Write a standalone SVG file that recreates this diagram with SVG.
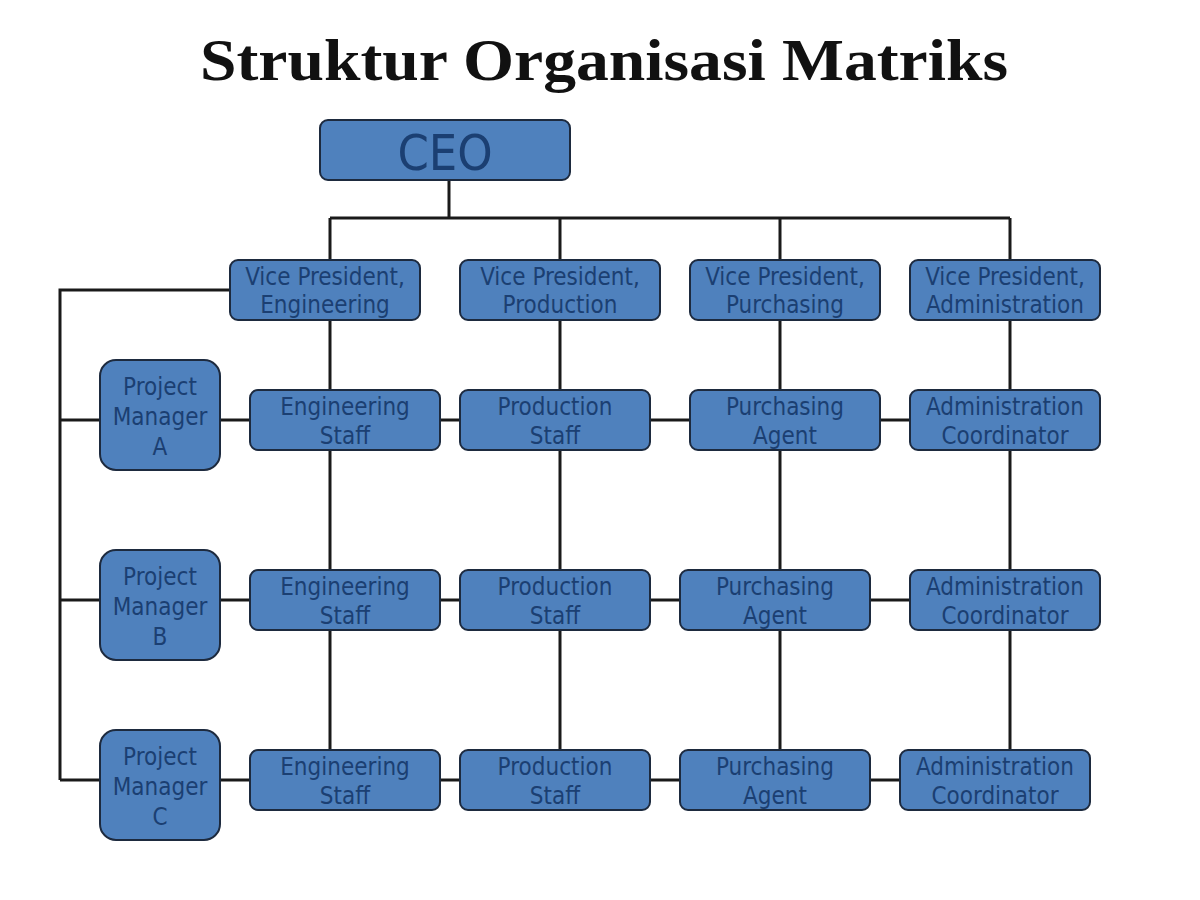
<svg xmlns="http://www.w3.org/2000/svg" width="1200" height="900" viewBox="0 0 1200 900">
<style>
.box{fill:#4f81bd;stroke:#1d2a3e;stroke-width:2}
.lbl{font-family:"DejaVu Sans Condensed","DejaVu Sans",sans-serif;font-stretch:condensed;font-size:24px;fill:#1b3f72;text-anchor:middle}
.ln{stroke:#1a1a1a;stroke-width:3;fill:none}
.title{font-family:"Liberation Serif","Times New Roman",serif;font-weight:bold;font-size:60px;fill:#111;text-anchor:middle}
</style>
<rect width="1200" height="900" fill="#ffffff"/>
<text class="title" x="604" y="80" textLength="808" lengthAdjust="spacingAndGlyphs">Struktur Organisasi Matriks</text>
<g id="connectors">
<path class="ln" d="M449 180V218M330 218H1010M330 218V260M560 218V260M780 218V260M1010 218V260"/>
<path class="ln" d="M330 320V750M560 320V750M780 320V750M1010 320V750"/>
<path class="ln" d="M230 290H60V780"/>
<path class="ln" d="M60 420H100M220 420H250M440 420H460M650 420H690M880 420H910"/>
<path class="ln" d="M60 600H100M220 600H250M440 600H460M650 600H680M870 600H910"/>
<path class="ln" d="M60 780H100M220 780H250M440 780H460M650 780H680M870 780H900"/>
</g>
<g id="ceo"><rect class="box" x="320" y="120" width="250" height="60" rx="8"/><text class="lbl" x="445" y="170" style="font-size:50px">CEO</text></g>
<g id="vp-eng"><rect class="box" x="230" y="260" width="190" height="60" rx="8"/><text class="lbl" x="325" y="285">Vice President,</text><text class="lbl" x="325" y="313">Engineering</text></g>
<g id="vp-prod"><rect class="box" x="460" y="260" width="200" height="60" rx="8"/><text class="lbl" x="560" y="285">Vice President,</text><text class="lbl" x="560" y="313">Production</text></g>
<g id="vp-purch"><rect class="box" x="690" y="260" width="190" height="60" rx="8"/><text class="lbl" x="785" y="285">Vice President,</text><text class="lbl" x="785" y="313">Purchasing</text></g>
<g id="vp-admin"><rect class="box" x="910" y="260" width="190" height="60" rx="8"/><text class="lbl" x="1005" y="285">Vice President,</text><text class="lbl" x="1005" y="313">Administration</text></g>

<g id="pm-a"><rect class="box" x="100" y="360" width="120" height="110" rx="16"/><text class="lbl" x="160" y="395">Project</text><text class="lbl" x="160" y="425">Manager</text><text class="lbl" x="160" y="455">A</text></g>
<g id="eng-1"><rect class="box" x="250" y="390" width="190" height="60" rx="8"/><text class="lbl" x="345" y="415">Engineering</text><text class="lbl" x="345" y="444">Staff</text></g>
<g id="prod-1"><rect class="box" x="460" y="390" width="190" height="60" rx="8"/><text class="lbl" x="555" y="415">Production</text><text class="lbl" x="555" y="444">Staff</text></g>
<g id="purch-1"><rect class="box" x="690" y="390" width="190" height="60" rx="8"/><text class="lbl" x="785" y="415">Purchasing</text><text class="lbl" x="785" y="444">Agent</text></g>
<g id="admin-1"><rect class="box" x="910" y="390" width="190" height="60" rx="8"/><text class="lbl" x="1005" y="415">Administration</text><text class="lbl" x="1005" y="444">Coordinator</text></g>

<g id="pm-b"><rect class="box" x="100" y="550" width="120" height="110" rx="16"/><text class="lbl" x="160" y="585">Project</text><text class="lbl" x="160" y="615">Manager</text><text class="lbl" x="160" y="645">B</text></g>
<g id="eng-2"><rect class="box" x="250" y="570" width="190" height="60" rx="8"/><text class="lbl" x="345" y="595">Engineering</text><text class="lbl" x="345" y="624">Staff</text></g>
<g id="prod-2"><rect class="box" x="460" y="570" width="190" height="60" rx="8"/><text class="lbl" x="555" y="595">Production</text><text class="lbl" x="555" y="624">Staff</text></g>
<g id="purch-2"><rect class="box" x="680" y="570" width="190" height="60" rx="8"/><text class="lbl" x="775" y="595">Purchasing</text><text class="lbl" x="775" y="624">Agent</text></g>
<g id="admin-2"><rect class="box" x="910" y="570" width="190" height="60" rx="8"/><text class="lbl" x="1005" y="595">Administration</text><text class="lbl" x="1005" y="624">Coordinator</text></g>

<g id="pm-c"><rect class="box" x="100" y="730" width="120" height="110" rx="16"/><text class="lbl" x="160" y="765">Project</text><text class="lbl" x="160" y="795">Manager</text><text class="lbl" x="160" y="825">C</text></g>
<g id="eng-3"><rect class="box" x="250" y="750" width="190" height="60" rx="8"/><text class="lbl" x="345" y="775">Engineering</text><text class="lbl" x="345" y="804">Staff</text></g>
<g id="prod-3"><rect class="box" x="460" y="750" width="190" height="60" rx="8"/><text class="lbl" x="555" y="775">Production</text><text class="lbl" x="555" y="804">Staff</text></g>
<g id="purch-3"><rect class="box" x="680" y="750" width="190" height="60" rx="8"/><text class="lbl" x="775" y="775">Purchasing</text><text class="lbl" x="775" y="804">Agent</text></g>
<g id="admin-3"><rect class="box" x="900" y="750" width="190" height="60" rx="8"/><text class="lbl" x="995" y="775">Administration</text><text class="lbl" x="995" y="804">Coordinator</text></g>
</svg>
